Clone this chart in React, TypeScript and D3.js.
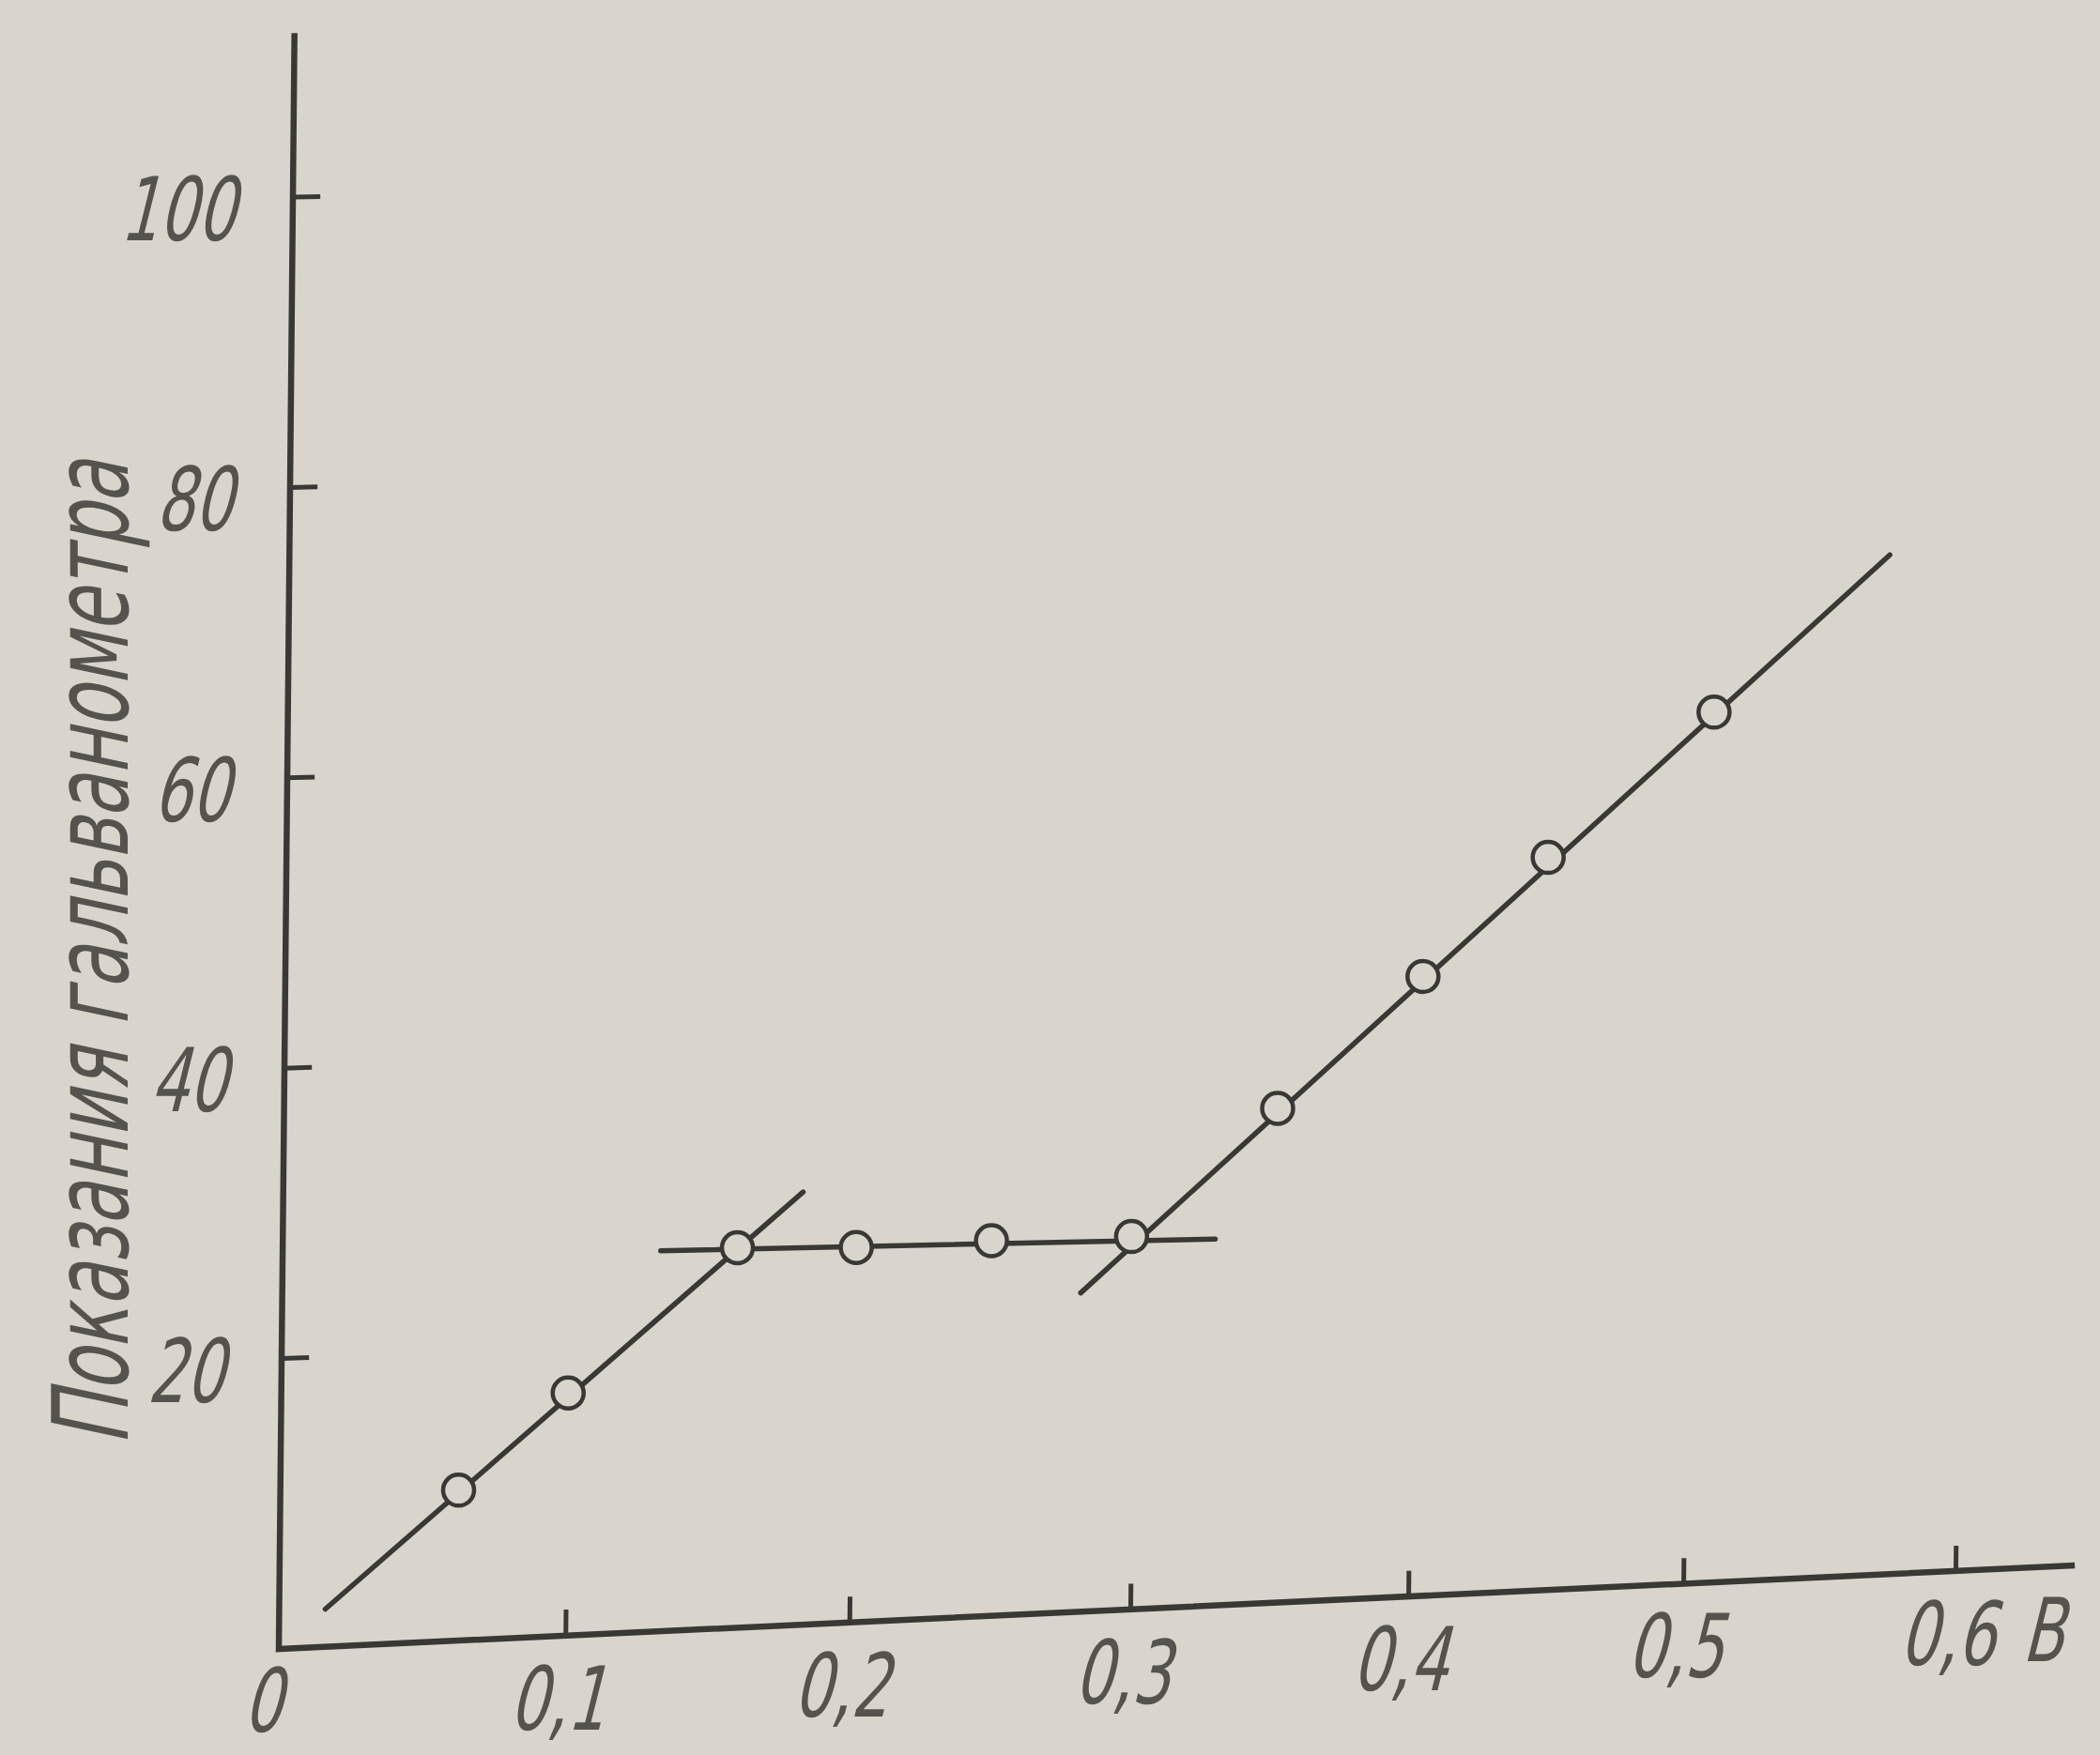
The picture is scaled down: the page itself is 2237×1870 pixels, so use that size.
import React from "react";
import * as d3 from "d3";

// ---------- data ----------
const voltage = [0.062, 0.1, 0.159, 0.201, 0.249, 0.299, 0.351, 0.403, 0.448, 0.508];
const reading = [10.4, 16.8, 26.4, 26.1, 26.2, 26.1, 34.7, 43.6, 51.7, 61.6];

// three fitted straight segments
const segStartX = [0.016, 0.132, 0.281];
const segStartY = [2.6, 26.4, 22.3];
const segEndX = [0.182, 0.329, 0.572];
const segEndY = [30.1, 25.7, 72.4];

const xTicks = [0.1, 0.2, 0.3, 0.4, 0.5, 0.6];
const xTickLabels = ["0,1", "0,2", "0,3", "0,4", "0,5", "0,6"];
const yTicks = [20, 40, 60, 80, 100];
const yTickLabels = ["20", "40", "60", "80", "100"];
const originLabel = "0";
const xUnit = "В";
const yTitle = "Показания гальванометра";

const xAxisEnd = 0.644;
const yAxisEnd = 111.3;

// ---------- layout ----------
const W = 2237;
const H = 1870;
const BG = "#d9d5cc";
const INK = "#3a3835";
const TEXT = "#56534e";
const FONT = "'DejaVu Sans Condensed', 'DejaVu Sans', sans-serif";

// scales: data -> unit square
const x = d3.scaleLinear().domain([0, 0.6]).range([0, 1]);
const y = d3.scaleLinear().domain([0, 100]).range([0, 1]);

// the page was photographed at a slight angle: unit square -> screen (homography)
const PA = 1854, PB = 15, PC = 297, PG = 0.0324, PD = -28.8, PE = -1547, PF = 1757;
function proj(vx: number, vy: number): [number, number] {
  const u = x(vx);
  const w = y(vy);
  const den = 1 + PG * u;
  return [(PA * u + PB * w + PC) / den, (PD * u + PE * w + PF) / den];
}

const line = d3.line<[number, number]>().x((d) => d[0]).y((d) => d[1]);

// narrow, slanted drafting-style lettering
function Label(props: { x: number; y: number; anchor: string; children: string }) {
  return (
    <text
      transform={`translate(${props.x},${props.y}) skewX(-14) scale(0.76,1)`}
      textAnchor={props.anchor}
    >
      {props.children}
    </text>
  );
}

export default function App() {
  const axisPath = line([proj(0, yAxisEnd), proj(0, 0), proj(xAxisEnd, 0)]) || "";
  const o = proj(0, 0);
  const p6 = proj(0.6, 0);
  return (
    <svg
      width={W}
      height={H}
      viewBox={`0 0 ${W} ${H}`}
      style={{ position: "absolute", left: 0, top: 0, display: "block" }}
    >
      <rect x={0} y={0} width={W} height={H} fill={BG} />

      {/* axes */}
      <path d={axisPath} fill="none" stroke={INK} strokeWidth={6.5} strokeLinejoin="miter" />
      {xTicks.map((t) => {
        const p0 = proj(t, 0);
        const p1 = proj(t, 1.8);
        return <line key={"xt" + t} x1={p0[0]} y1={p0[1]} x2={p1[0]} y2={p1[1]} stroke={INK} strokeWidth={5} />;
      })}
      {yTicks.map((t) => {
        const p0 = proj(0, t);
        const p1 = proj(0.0095, t);
        return <line key={"yt" + t} x1={p0[0]} y1={p0[1]} x2={p1[0]} y2={p1[1]} stroke={INK} strokeWidth={5} />;
      })}

      {/* tick labels */}
      <g fill={TEXT} fontFamily={FONT} fontSize={94}>
        {yTicks.map((t, i) => {
          const p = proj(0, t);
          return (
            <Label key={"yl" + t} x={p[0] - 62} y={p[1] + 46} anchor="end">
              {yTickLabels[i]}
            </Label>
          );
        })}
        {xTicks.map((t, i) => {
          const p = proj(t, 0);
          return (
            <Label key={"xl" + t} x={p[0] - 10} y={p[1] + 100} anchor="middle">
              {xTickLabels[i]}
            </Label>
          );
        })}
        <Label x={o[0] - 18} y={o[1] + 88} anchor="middle">
          {originLabel}
        </Label>
        <Label x={p6[0] + 92} y={p6[1] + 96} anchor="middle">
          {xUnit}
        </Label>
        <text
          transform="translate(136,1016) rotate(-90) skewX(-12)"
          textAnchor="middle"
          fontSize={112}
          textLength={1049}
          lengthAdjust="spacingAndGlyphs"
        >
          {yTitle}
        </text>
      </g>

      {/* fitted lines */}
      {segStartX.map((sx, i) => (
        <path
          key={"seg" + i}
          d={line([proj(sx, segStartY[i]), proj(segEndX[i], segEndY[i])]) || ""}
          fill="none"
          stroke={INK}
          strokeWidth={5.5}
          strokeLinecap="round"
        />
      ))}

      {/* measured points */}
      {voltage.map((v, i) => {
        const p = proj(v, reading[i]);
        return <circle key={"pt" + i} cx={p[0]} cy={p[1]} r={16.5} fill={BG} stroke={INK} strokeWidth={4.5} />;
      })}
    </svg>
  );
}
